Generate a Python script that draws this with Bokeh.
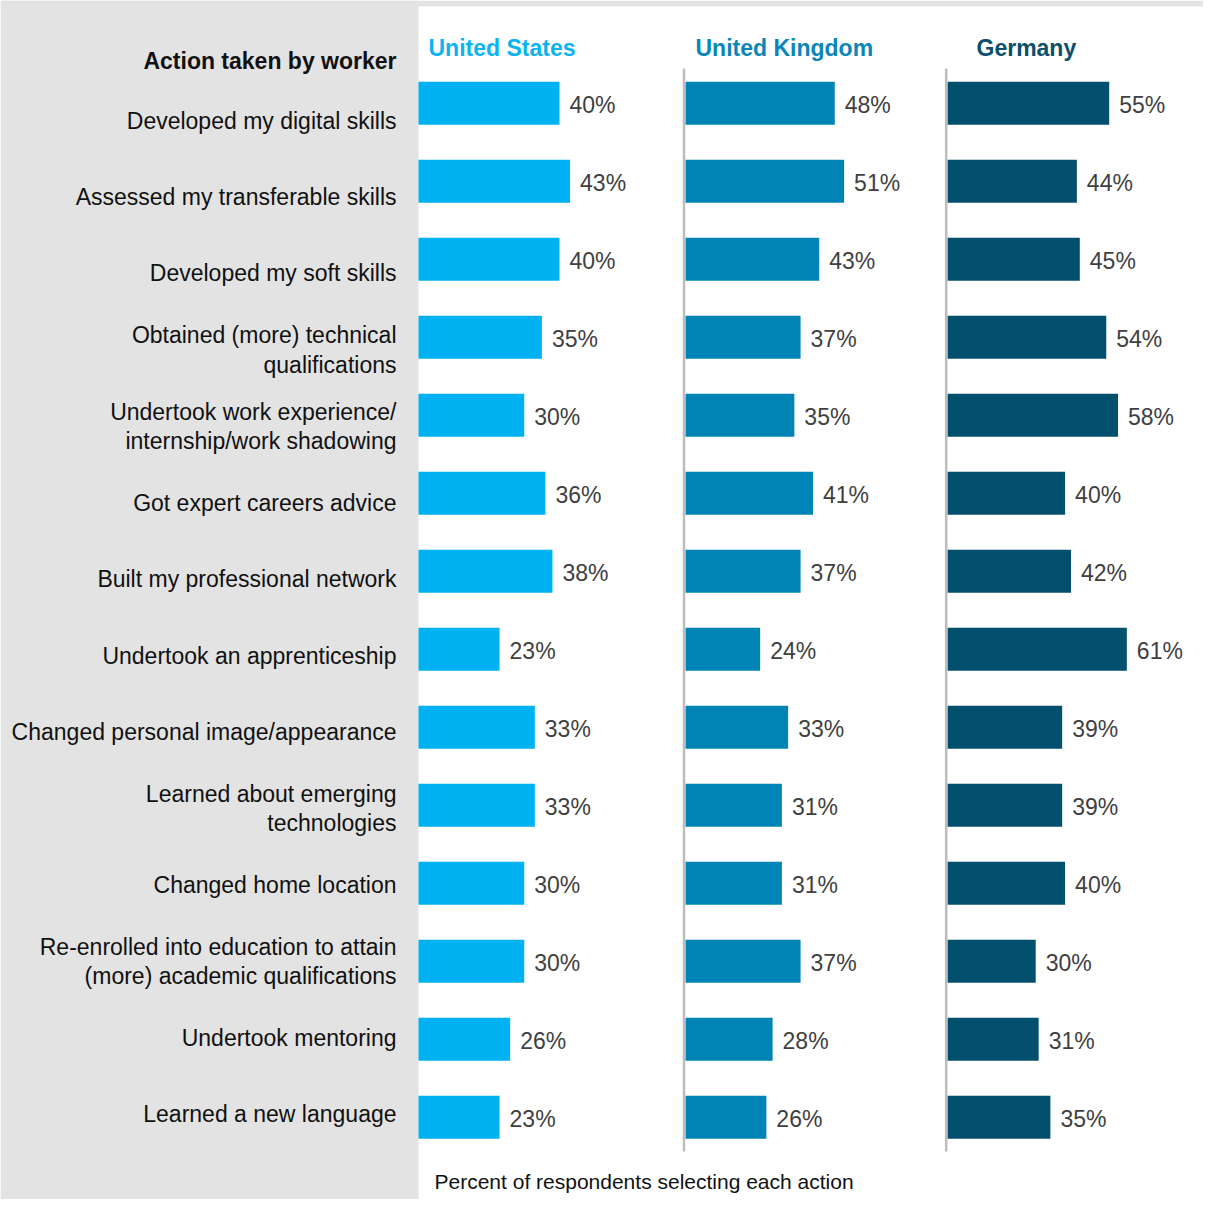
from bokeh.plotting import figure
from bokeh.models import Range1d, BoxAnnotation, ColumnDataSource
from bokeh.core.properties import value
from bokeh.embed import file_html
from bokeh.resources import INLINE

# ---------------- data ----------------
actions = [
    "Developed my digital skills",
    "Assessed my transferable skills",
    "Developed my soft skills",
    "Obtained (more) technical\nqualifications",
    "Undertook work experience/\ninternship/work shadowing",
    "Got expert careers advice",
    "Built my professional network",
    "Undertook an apprenticeship",
    "Changed personal image/appearance",
    "Learned about emerging\ntechnologies",
    "Changed home location",
    "Re-enrolled into education to attain\n(more) academic qualifications",
    "Undertook mentoring",
    "Learned a new language",
]
countries = ["United States", "United Kingdom", "Germany"]
us_values = [40, 43, 40, 35, 30, 36, 38, 23, 33, 33, 30, 30, 26, 23]
uk_values = [48, 51, 43, 37, 35, 41, 37, 24, 33, 31, 31, 37, 28, 26]
de_values = [55, 44, 45, 54, 58, 40, 42, 61, 39, 39, 40, 30, 31, 35]
header_label = "Action taken by worker"
caption = "Percent of respondents selecting each action"

# ---------------- layout / style ----------------
W, H = 1203, 1199
FONT = value("Liberation Sans")
GRAY_BG = "#E3E3E3"
colors = ["#00B2F2", "#0083B5", "#02506E"]
title_colors = ["#0AB4F2", "#0A86B8", "#0B4F6C"]
# (screen x of zero, px per percent, title left, divider x)
panels = [(418, 3.525, 428, None), (685, 3.11, 695, 683.5), (947, 2.94, 976, 945.7)]
row0, row_step = 102.7, 78.0
lab0, lab_step = 120.0, 76.46

p = figure(width=W, height=H, x_range=Range1d(0, W), y_range=Range1d(H, 0),
           output_backend="svg", toolbar_location=None, min_border=0,
           x_axis_location=None, y_axis_location=None)
p.grid.visible = False
p.outline_line_color = None
p.background_fill_color = "white"
p.border_fill_color = "white"

p.add_layout(BoxAnnotation(left=0, right=418, top=0, bottom=H,
                           fill_color=GRAY_BG, fill_alpha=1.0,
                           line_color=None, level="underlay"))
p.add_layout(BoxAnnotation(left=0, right=W, top=0, bottom=6,
                           fill_color=GRAY_BG, fill_alpha=1.0,
                           line_color=None, level="underlay"))

p.extra_y_ranges["rows"] = Range1d((H - row0) / row_step, -row0 / row_step)
p.extra_y_ranges["labels"] = Range1d((H - lab0) / lab_step, -lab0 / lab_step)

rows = list(range(len(actions)))

# category labels
p.text(x=[396] * len(actions), y=rows, text=actions, y_range_name="labels",
       text_align="right", text_baseline="middle", text_font=FONT,
       text_font_size="23px", text_color="#111111", text_line_height=1.13)
p.text(x=[396], y=[60], text=[header_label], text_align="right",
       text_baseline="middle", text_font=FONT, text_font_size="23px",
       text_font_style="bold", text_color="#111111")

series = [us_values, uk_values, de_values]
for k, (name, vals) in enumerate(zip(countries, series)):
    x0, s, tx, div = panels[k]
    rname = "r%d" % k
    p.extra_x_ranges[rname] = Range1d(-x0 / s, (W - x0) / s)
    src = ColumnDataSource(dict(row=rows, v=vals, lab=["%d%%" % v for v in vals]))
    p.hbar(y="row", left=0, right="v", height=0.551, source=src,
           x_range_name=rname, y_range_name="rows",
           fill_color=colors[k], line_color=None)
    p.text(x="v", y="row", text="lab", source=src, x_range_name=rname,
           y_range_name="rows", x_offset=10, y_offset=2,
           text_align="left", text_baseline="middle", text_font=FONT,
           text_font_size="23px", text_color="#404040")
    p.text(x=[tx], y=[47], text=[name], text_align="left",
           text_baseline="middle", text_font=FONT, text_font_size="23px",
           text_font_style="bold", text_color=title_colors[k])
    if div is not None:
        p.segment(x0=[div], x1=[div], y0=[68], y1=[1151],
                  line_color="#BDBDBD", line_width=2.5)

p.text(x=[434], y=[1181], text=[caption], text_align="left",
       text_baseline="middle", text_font=FONT, text_font_size="21px",
       text_color="#111111")

open("out.html", "w").write(file_html(p, INLINE))
